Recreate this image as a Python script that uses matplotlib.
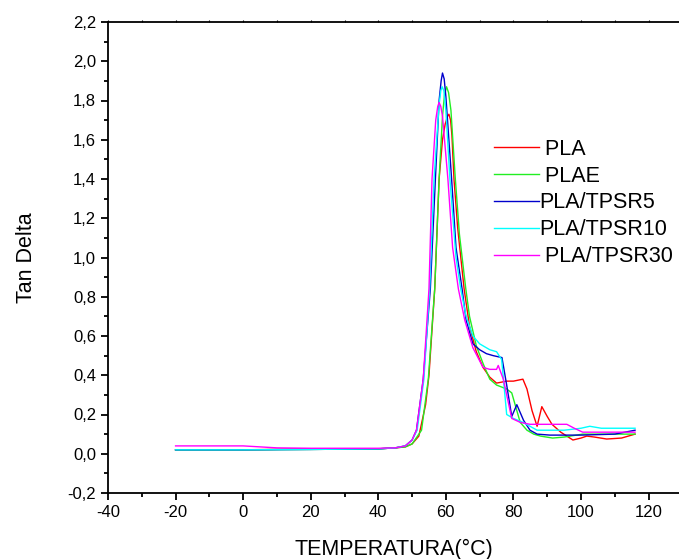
import matplotlib
matplotlib.use('Agg')
import matplotlib.pyplot as plt
from matplotlib.ticker import MultipleLocator, FuncFormatter

plt.rcParams['font.family'] = ['Liberation Sans', 'DejaVu Sans']

# PLA (red)
t_pla = [-20, 0, 20, 40, 45, 48, 50, 52, 54, 55, 56.7, 58, 59, 59.8, 60.5, 60.9, 61.4, 61.8, 62.4, 63.5, 65.4, 67,
         69, 71, 73, 75, 78, 80, 82.8, 84, 85.5, 87, 88.4, 90, 91.4, 94, 97.6, 100, 101.7, 104, 107.6, 112, 116]
v_pla = [0.02, 0.02, 0.025, 0.025, 0.03, 0.035, 0.05, 0.09, 0.25, 0.4, 0.84, 1.4, 1.6, 1.68, 1.72, 1.73, 1.70,
         1.62, 1.40, 1.15, 0.84, 0.65, 0.52, 0.44, 0.39, 0.36, 0.37, 0.37, 0.38, 0.33, 0.22, 0.14, 0.24, 0.19, 0.15,
         0.11, 0.07, 0.08, 0.09, 0.085, 0.075, 0.08, 0.10]

# PLAE (green)
t_plae = [-20, 0, 20, 40, 45, 48, 50, 52.8, 54.8, 56.7, 58, 59, 59.6, 60.2, 60.8, 61.5, 62.8, 64, 65.9, 67, 69, 71,
          73, 75, 78, 79.5, 82, 84, 86, 88, 91.6, 95, 100.5, 105, 110, 116]
v_plae = [0.02, 0.02, 0.022, 0.025, 0.03, 0.035, 0.05, 0.12, 0.38, 0.84, 1.4, 1.72, 1.83, 1.87, 1.84, 1.75, 1.40,
          1.12, 0.84, 0.70, 0.55, 0.46, 0.38, 0.35, 0.33, 0.31, 0.16, 0.12, 0.10, 0.09, 0.08, 0.085, 0.10, 0.10,
          0.10, 0.10]

# PLA/TPSR5 (blue)
t_tpsr5 = [-20, 0, 20, 40, 45, 48, 50, 51.3, 53.3, 55.4, 56.9, 58, 58.6, 59, 59.5, 60, 61.7, 63, 64.8, 66, 68, 70,
           72, 74, 76.6, 78, 79.5, 81, 83, 84.9, 87, 90.8, 100, 110, 116]
v_tpsr5 = [0.02, 0.02, 0.022, 0.025, 0.03, 0.04, 0.07, 0.12, 0.38, 0.84, 1.4, 1.8, 1.9, 1.94, 1.91, 1.82, 1.40,
           1.05, 0.84, 0.68, 0.56, 0.53, 0.51, 0.50, 0.49, 0.35, 0.19, 0.25, 0.17, 0.12, 0.10, 0.095, 0.095, 0.10,
           0.12]

# PLA/TPSR10 (cyan)
t_tpsr10 = [-20, 0, 20, 40, 45, 48, 50, 51.5, 53.5, 55.2, 56.5, 58, 58.5, 58.9, 59.4, 60, 61.2, 63, 64.4, 66, 68,
            70, 73, 75, 76.5, 78, 80, 82.8, 87, 95, 100, 102.6, 106, 116]
v_tpsr10 = [0.02, 0.02, 0.022, 0.025, 0.03, 0.04, 0.07, 0.12, 0.38, 0.84, 1.4, 1.78, 1.85, 1.87, 1.85, 1.75, 1.40,
            1.0, 0.84, 0.70, 0.60, 0.56, 0.53, 0.52, 0.48, 0.20, 0.18, 0.16, 0.12, 0.12, 0.13, 0.14, 0.13, 0.13]

# PLA/TPSR30 (magenta)
t_tpsr30 = [-20, 0, 10, 20, 40, 45, 48, 50, 51.3, 53.3, 55.0, 55.9, 57, 57.6, 58, 58.5, 59, 60.6, 62, 63.7, 65.6,
            68, 71, 73, 75, 75.5, 77, 79.5, 82, 84.9, 90, 95.8, 98, 100.5, 106, 116]
v_tpsr30 = [0.04, 0.04, 0.03, 0.028, 0.028, 0.03, 0.04, 0.07, 0.12, 0.38, 0.84, 1.4, 1.7, 1.77, 1.79, 1.77, 1.72,
            1.40, 1.05, 0.84, 0.68, 0.54, 0.44, 0.43, 0.43, 0.45, 0.38, 0.18, 0.16, 0.15, 0.15, 0.15, 0.13, 0.11,
            0.11, 0.11]

series = [
    (' PLA', t_pla, v_pla, '#ff0000'),
    (' PLAE', t_plae, v_plae, '#22ee22'),
    ('PLA/TPSR5', t_tpsr5, v_tpsr5, '#0000cc'),
    ('PLA/TPSR10', t_tpsr10, v_tpsr10, '#00ffff'),
    (' PLA/TPSR30', t_tpsr30, v_tpsr30, '#ff00ff'),
]

fig = plt.figure(figsize=(6.79, 5.59), dpi=100)
ax = fig.add_axes([108 / 679, 1 - 493 / 559, 1 - 108 / 679, 471 / 559])

for label, t, v, c in series:
    ax.plot(t, v, color=c, lw=1.0, label=label)

ax.set_xlim(-40, 129)
ax.set_ylim(-0.2, 2.2)
ax.xaxis.set_major_locator(MultipleLocator(20))
ax.xaxis.set_minor_locator(MultipleLocator(10))
ax.yaxis.set_major_locator(MultipleLocator(0.2))
ax.yaxis.set_minor_locator(MultipleLocator(0.1))
ax.yaxis.set_major_formatter(FuncFormatter(lambda v, p: ('%.1f' % v).replace('.', ',').replace('-0,0', '0,0')))
ax.xaxis.set_major_formatter(FuncFormatter(lambda v, p: '%d' % round(v)))

ax.spines['right'].set_visible(False)
for s in ['left', 'bottom', 'top']:
    ax.spines[s].set_linewidth(1.3)
ax.tick_params(which='major', direction='out', length=5, width=1.3, labelsize=12)
ax.tick_params(which='minor', direction='out', length=3, width=1.3)
ax.tick_params(axis='x', which='both', top=True, labeltop=False)
for tk in ax.xaxis.get_major_ticks() + ax.xaxis.get_minor_ticks():
    tk.tick2line.set_markersize(1.5)
    tk.tick2line.set_markeredgewidth(0.8)

ax.set_xlabel('TEMPERATURA(°C)', fontsize=15.5, labelpad=14)
ax.set_ylabel('Tan Delta', fontsize=15.5, labelpad=22)

ax.legend(loc='upper left', bbox_to_anchor=(0.676, 0.752), frameon=False, fontsize=15.5,
          handlelength=2.1, handletextpad=0, labelspacing=0.27, borderpad=0, borderaxespad=0)

fig.savefig('out.png', dpi=100)
